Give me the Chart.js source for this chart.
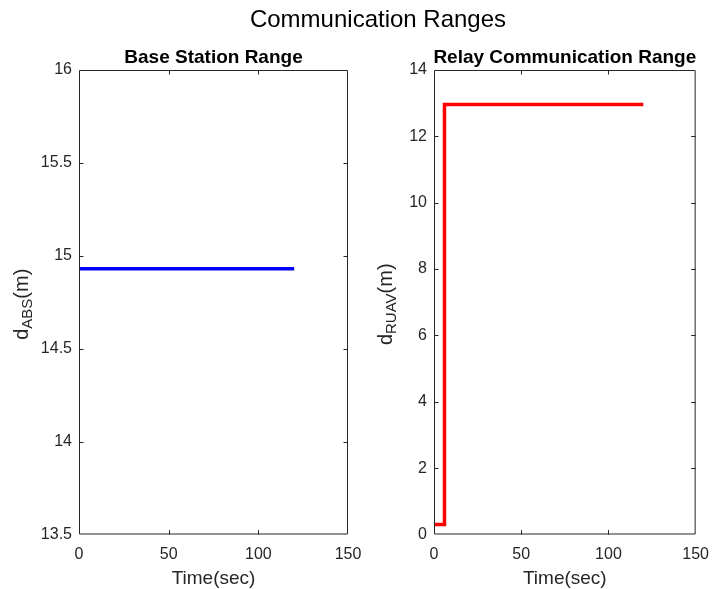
<!DOCTYPE html>
<html>
<head>
<meta charset="utf-8">
<title>Communication Ranges</title>
<script src="https://cdn.jsdelivr.net/npm/chart.js@4.4.1/dist/chart.umd.min.js"></script>
<style>
  html, body { margin: 0; padding: 0; background: #fff; }
  #fig { position: relative; width: 719px; height: 589px; overflow: hidden; background: #fff; }
  #fig canvas { position: absolute; left: 0; top: 0; }
  #suptitle {
    position: absolute; left: 0; width: 756px; top: 5px; text-align: center;
    font: 24px "Liberation Sans", Arial, sans-serif; color: #000; white-space: nowrap;
  }
</style>
</head>
<body>
<div id="fig">
  <canvas id="baseChart" width="719" height="589"></canvas>
  <canvas id="relayChart" width="719" height="589"></canvas>
  <div id="suptitle">Communication Ranges</div>
</div>
<script>
// Time stamps (sec) and ranges (m)
const baseTime   = [0, 120];
const baseRange  = [14.93, 14.93];
const relayTime  = [0, 6, 6, 120];
const relayRange = [0.3, 0.3, 12.96, 12.96];

// Tick values
const timeTicks  = [0, 50, 100, 150];
const baseTicks  = [13.5, 14, 14.5, 15, 15.5, 16];
const relayTicks = [0, 2, 4, 6, 8, 10, 12, 14];

const FONT = '"Liberation Sans", Arial, sans-serif';
const AXIS_COLOR = '#262626';

function points(xs, ys) {
  return xs.map((x, i) => ({ x: x, y: ys[i] }));
}

// Boxed axes with inward tick marks, subplot title and axis labels
const boxAxes = {
  id: 'boxAxes',
  afterDraw(chart, args, o) {
    const ctx = chart.ctx;
    const { left, right, top, bottom } = chart.chartArea;
    const xs = chart.scales.x, ys = chart.scales.y;
    const tl = 4.5;
    ctx.save();
    ctx.strokeStyle = AXIS_COLOR;
    ctx.lineWidth = 1;
    ctx.beginPath();
    ctx.rect(left + 0.5, top + 0.5, right - left - 1, bottom - top - 1);
    xs.ticks.forEach(t => {
      const px = Math.round(xs.getPixelForValue(t.value)) + 0.5;
      if (px <= left + 1 || px >= right - 1) return;
      ctx.moveTo(px, bottom); ctx.lineTo(px, bottom - tl);
      ctx.moveTo(px, top); ctx.lineTo(px, top + tl);
    });
    ys.ticks.forEach(t => {
      const py = Math.round(ys.getPixelForValue(t.value)) + 0.5;
      if (py <= top + 1 || py >= bottom - 1) return;
      ctx.moveTo(left, py); ctx.lineTo(left + tl, py);
      ctx.moveTo(right, py); ctx.lineTo(right - tl, py);
    });
    ctx.stroke();

    const cx = (left + right) / 2;
    // subplot title
    ctx.fillStyle = '#000';
    ctx.font = 'bold 19px ' + FONT;
    ctx.textAlign = 'center';
    ctx.textBaseline = 'alphabetic';
    ctx.fillText(o.title, cx, 63);

    // x label
    ctx.fillStyle = AXIS_COLOR;
    ctx.font = '19px ' + FONT;
    ctx.fillText(o.xLabel, cx, 584);

    // y label with subscript, rotated
    const mainFont = '20px ' + FONT, subFont = '15px ' + FONT;
    ctx.font = mainFont; const wD = ctx.measureText(o.yMain).width;
    const wU = ctx.measureText(o.yUnit).width;
    ctx.font = subFont; const wS = ctx.measureText(o.ySub).width;
    const total = wD + wS + wU;
    ctx.translate(o.yLabelX, (top + bottom) / 2 + 2);
    ctx.rotate(-Math.PI / 2);
    ctx.textAlign = 'left';
    let x0 = -total / 2;
    ctx.font = mainFont; ctx.fillText(o.yMain, x0, 0); x0 += wD;
    ctx.font = subFont; ctx.fillText(o.ySub, x0, 4); x0 += wS;
    ctx.font = mainFont; ctx.fillText(o.yUnit, x0, 0);
    ctx.restore();
  }
};

function makeChart(id, data, color, yTicks, padLeft, padRight, labels) {
  return new Chart(document.getElementById(id), {
    type: 'line',
    data: {
      datasets: [{
        data: data,
        borderColor: color,
        borderWidth: 3.5,
        pointRadius: 0,
        fill: false,
        tension: 0
      }]
    },
    options: {
      responsive: false,
      animation: false,
      devicePixelRatio: 1,
      layout: { padding: { left: padLeft, right: padRight, top: 70, bottom: 0 } },
      plugins: {
        legend: { display: false },
        title: { display: false },
        tooltip: { enabled: false },
        boxAxes: labels
      },
      scales: {
        x: {
          type: 'linear',
          min: timeTicks[0],
          max: timeTicks[timeTicks.length - 1],
          afterBuildTicks: s => { s.ticks = timeTicks.map(v => ({ value: v })); },
          afterFit: s => { s.height = 54.5; },
          grid: { display: false, drawTicks: false },
          border: { display: false },
          ticks: {
            padding: 10, color: AXIS_COLOR, font: { family: FONT, size: 16 }, maxRotation: 0,
            callback: v => String(v)
          }
        },
        y: {
          type: 'linear',
          min: yTicks[0],
          max: yTicks[yTicks.length - 1],
          afterBuildTicks: s => { s.ticks = yTicks.map(v => ({ value: v })); },
          afterFit: s => { s.width = 79; },
          grid: { display: false, drawTicks: false },
          border: { display: false },
          ticks: {
            padding: 7, color: AXIS_COLOR, font: { family: FONT, size: 16 },
            callback: v => String(v)
          }
        }
      }
    },
    plugins: [boxAxes]
  });
}

makeChart('baseChart', points(baseTime, baseRange), '#0000ff', baseTicks, 0, 371, {
  title: 'Base Station Range', xLabel: 'Time(sec)',
  yMain: 'd', ySub: 'ABS', yUnit: '(m)', yLabelX: 28
});

makeChart('relayChart', points(relayTime, relayRange), '#ff0000', relayTicks, 355, 16, {
  title: 'Relay Communication Range', xLabel: 'Time(sec)',
  yMain: 'd', ySub: 'RUAV', yUnit: '(m)', yLabelX: 392
});
</script>
</body>
</html>
